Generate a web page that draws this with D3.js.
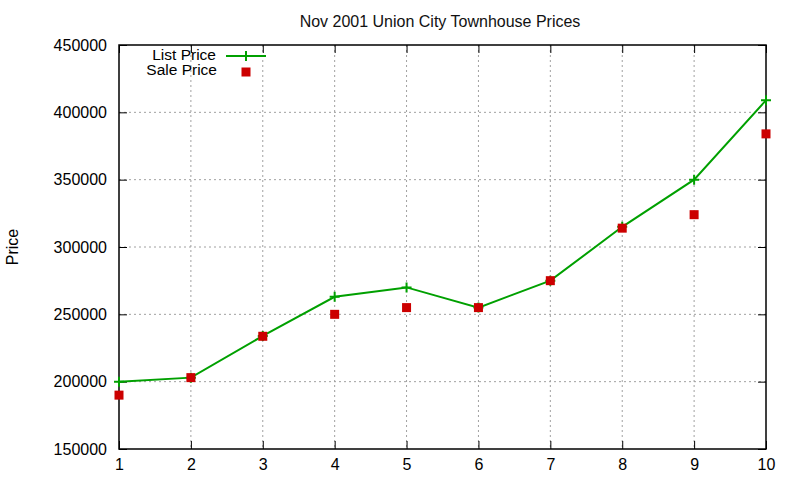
<!DOCTYPE html>
<html><head><meta charset="utf-8">
<script src="https://cdn.jsdelivr.net/npm/d3@7"></script>
<style>body{margin:0;background:#fff}svg{display:block}text{font-family:"Liberation Sans",Arial,sans-serif}</style>
</head><body>
<script>
const houses = [1,2,3,4,5,6,7,8,9,10];
const listPrice = [200000,203000,234000,263000,270000,255000,275000,315000,350000,409000];
const salePrice = [190000,203000,233700,250000,255000,255000,275000,314000,324000,384000];
const yTicks = [150000,200000,250000,300000,350000,400000,450000];
const title = "Nov 2001 Union City Townhouse Prices";
const yLabel = "Price";

const W=800,H=480;
const m={l:119,r:766,t:45,b:449};
const svg=d3.select("body").append("svg").attr("width",W).attr("height",H);
const x=d3.scaleLinear().domain([1,10]).range([m.l,m.r]);
const y=d3.scaleLinear().domain([150000,450000]).range([m.b,m.t]);

// grid
const g=svg.append("g");
g.selectAll(".gx").data(houses.slice(1,-1)).join("line")
 .attr("x1",d=>x(d)).attr("x2",d=>x(d)).attr("y1",m.t).attr("y2",m.b)
 .attr("stroke","#a0a0a0").attr("stroke-dasharray","2,3").attr("stroke-width",1);
g.selectAll(".gy").data(yTicks.slice(1,-1)).join("line")
 .attr("x1",m.l).attr("x2",m.r).attr("y1",d=>y(d)).attr("y2",d=>y(d))
 .attr("stroke","#a0a0a0").attr("stroke-dasharray","2,3").attr("stroke-width",1);

// axes
const yl=d3.axisLeft(y).tickValues(yTicks).tickSize(-8).tickPadding(12).tickFormat(d3.format("d"));
const ya=svg.append("g").attr("transform",`translate(${m.l},0)`).call(yl);
const yr=svg.append("g").attr("transform",`translate(${m.r},0)`).call(d3.axisRight(y).tickValues(yTicks).tickSize(-8).tickFormat(""));
const xb=svg.append("g").attr("transform",`translate(0,${m.b})`).call(d3.axisBottom(x).tickValues(houses).tickSize(-8).tickPadding(10).tickFormat(d3.format("d")));
const xt=svg.append("g").attr("transform",`translate(0,${m.t})`).call(d3.axisTop(x).tickValues(houses).tickSize(-8).tickFormat(""));
[ya,yr,xb,xt].forEach(a=>{a.select(".domain").remove();a.selectAll("line").attr("stroke","#000");a.selectAll("text").attr("font-size",16).attr("fill","#000").style("font-family",'"Liberation Sans",Arial,sans-serif');});
svg.append("rect").attr("x",m.l).attr("y",m.t).attr("width",m.r-m.l).attr("height",m.b-m.t)
 .attr("fill","none").attr("stroke","#000").attr("stroke-width",1.5);

// title, label
svg.append("text").attr("x",440).attr("y",26.5).attr("text-anchor","middle").attr("font-size",16).attr("fill","#111").text(title);
svg.append("text").attr("transform","translate(18,247) rotate(-90)").attr("text-anchor","middle").attr("font-size",16).text(yLabel);

// list line
const green="#00a000", red="#cc0000";
const line=d3.line().x((d,i)=>x(houses[i])).y(d=>y(d));
svg.append("path").datum(listPrice).attr("d",line).attr("fill","none").attr("stroke",green).attr("stroke-width",2);
const plus=(sel,cx,cy)=>sel.append("path").attr("d",`M${cx-5},${cy}H${cx+5}M${cx},${cy-5}V${cy+5}`).attr("stroke",green).attr("stroke-width",2);
listPrice.forEach((v,i)=>plus(svg,x(houses[i]),y(v)));

// sale squares
svg.selectAll(".sq").data(salePrice).join("rect")
 .attr("x",(d,i)=>x(houses[i])-4.5).attr("y",d=>y(d)-4.5).attr("width",9).attr("height",9).attr("fill",red);

// legend
svg.append("text").attr("x",216).attr("y",59.5).attr("text-anchor","end").attr("font-size",15.5).text("List Price");
svg.append("line").attr("x1",226).attr("x2",266).attr("y1",56).attr("y2",56).attr("stroke",green).attr("stroke-width",2);
plus(svg,246,56);
svg.append("text").attr("x",217).attr("y",75).attr("text-anchor","end").attr("font-size",15.5).text("Sale Price");
svg.append("rect").attr("x",241.5).attr("y",67.5).attr("width",9).attr("height",9).attr("fill",red);
</script>
</body></html>
